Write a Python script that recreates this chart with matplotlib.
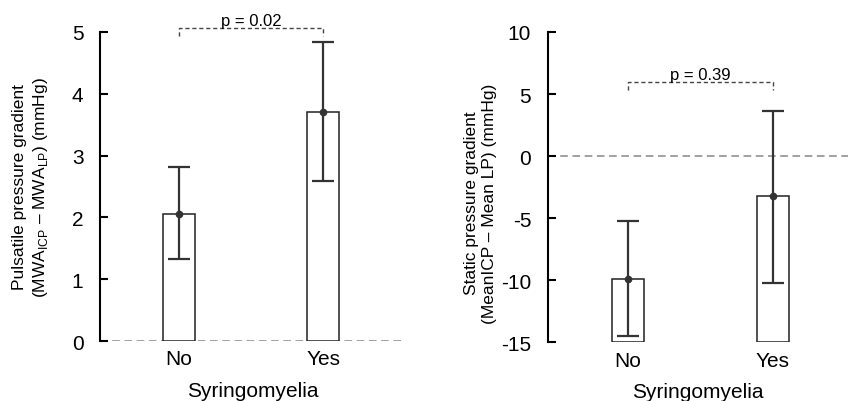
import matplotlib.pyplot as plt
import numpy as np

plt.rcParams['font.family'] = ['Liberation Sans', 'DejaVu Sans']
plt.rcParams['mathtext.fontset'] = 'custom'
plt.rcParams['mathtext.rm'] = 'Liberation Sans'
plt.rcParams['axes.unicode_minus'] = False

groups = ["No", "Yes"]

# pulsatile pressure gradient
puls_mean = [2.06, 3.71]
puls_lo = [1.32, 2.59]
puls_hi = [2.81, 4.84]
puls_p = "p = 0.02"

# static pressure gradient
stat_mean = [-9.9, -3.25]
stat_lo = [-14.5, -10.2]
stat_hi = [-5.24, 3.63]
stat_p = "p = 0.39"

fig = plt.figure(figsize=(8.48, 4.02), dpi=100)
ax1 = fig.add_axes([0.118, 0.149, 0.360, 0.769])
ax2 = fig.add_axes([0.646, 0.146, 0.354, 0.772])

def panel(ax, mean, lo, hi, base, ylim, yticks, ylabel, ptext, py, pdrop, xlim):
	x = np.arange(len(groups))
	mean = np.array(mean)
	err = [mean - np.array(lo), np.array(hi) - mean]
	ax.bar(x, mean - base, bottom=base, width=0.22, color='white',
		edgecolor='#222222', linewidth=1.1, zorder=2)
	ax.errorbar(x, mean, yerr=err, fmt='o', color='#333333', ms=4.5,
		elinewidth=1.6, capsize=8, capthick=1.6, zorder=3)
	ax.axhline(0, color='#888888', ls='--', lw=1.1, dashes=(5, 3), zorder=1)
	# significance bracket
	ax.plot([x[0], x[0], x[1], x[1]], [py - pdrop, py, py, py - pdrop],
		color='#444444', ls='--', lw=1, dashes=(3, 2), clip_on=False)
	ax.text(x.mean(), py, ptext, ha='center', va='bottom', fontsize=12)
	ax.set_xlim(*xlim)
	ax.set_ylim(*ylim)
	ax.set_yticks(yticks)
	ax.set_xticks(x)
	ax.set_xticklabels(groups, fontsize=15)
	ax.tick_params(axis='x', length=0, pad=6)
	ax.tick_params(axis='y', direction='in', length=6, width=1.5, labelsize=15, pad=12)
	for s in ['top', 'right', 'bottom']:
		ax.spines[s].set_visible(False)
	ax.spines['left'].set_linewidth(1.5)
	ax.set_ylabel(ylabel, fontsize=12.5, linespacing=1.25)
	ax.set_xlabel("Syringomyelia", fontsize=15, labelpad=9)

panel(ax1, puls_mean, puls_lo, puls_hi, 0, (0, 5), range(0, 6),
	"Pulsatile pressure gradient\n(MWA$_{\\mathrm{ICP}}$ \u2013 MWA$_{\\mathrm{LP}}$) (mmHg)",
	puls_p, 5.06, 0.12, (-0.549, 1.57))
ax1.yaxis.set_label_coords(-0.165, 0.5)

panel(ax2, stat_mean, stat_lo, stat_hi, -15, (-15, 10), range(-15, 11, 5),
	"Static pressure gradient\n(MeanICP \u2013 Mean LP) (mmHg)",
	stat_p, 6.0, 0.65, (-0.552, 1.52))
ax2.yaxis.set_label_coords(-0.17, 0.45)

fig.savefig("out.png", dpi=100)
